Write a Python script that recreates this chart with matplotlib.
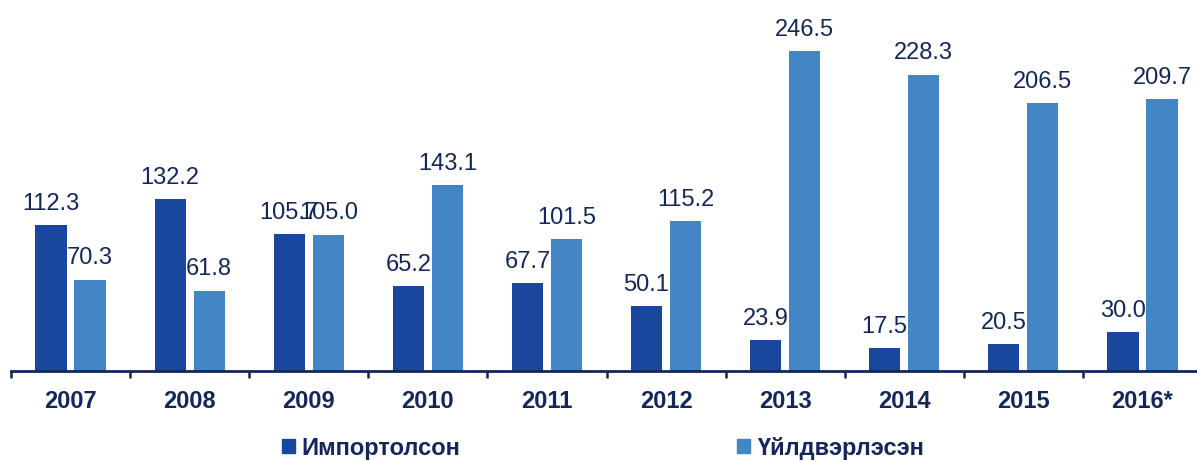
import matplotlib
matplotlib.use("Agg")
import matplotlib.pyplot as plt
from matplotlib.patches import Patch
import numpy as np

years = ["2007", "2008", "2009", "2010", "2011", "2012", "2013", "2014", "2015", "2016*"]
imported = [112.3, 132.2, 105.7, 65.2, 67.7, 50.1, 23.9, 17.5, 20.5, 30.0]
produced = [70.3, 61.8, 105.0, 143.1, 101.5, 115.2, 246.5, 228.3, 206.5, 209.7]
labels = ["Импортолсон", "Үйлдвэрлэсэн"]

dark = "#1A479E"
light = "#4286C6"
navy = "#13275A"

plt.rcParams["font.family"] = ["Liberation Sans", "DejaVu Sans"]

W, H = 1197, 461
fig = plt.figure(figsize=(W / 100, H / 100), dpi=100)
ax = fig.add_axes([11 / W, 90 / H, 10 * 119.1 / W, 371 / H])

x = np.arange(len(years))
bw = 0.262
off = 0.164
b1 = ax.bar(x - off, imported, bw, color=dark)
b2 = ax.bar(x + off, produced, bw, color=light)

for bars, vals in ((b1, imported), (b2, produced)):
    for b, v in zip(bars, vals):
        ax.annotate(f"{v:.1f}", (b.get_x() + b.get_width() / 2, v),
                    xytext=(0, 11), textcoords="offset points",
                    ha="center", va="baseline", fontsize=17, color=navy,
                    clip_on=False)

ax.set_xlim(-0.5, len(years) - 0.5)
ax.set_ylim(0, 285.8)

for s in ("top", "left", "right"):
    ax.spines[s].set_visible(False)
ax.spines["bottom"].set_color(navy)
ax.spines["bottom"].set_linewidth(2)

ax.set_yticks([])
ax.set_xticks(np.arange(len(years) + 1) - 0.5)
ax.set_xticklabels([])
ax.tick_params(axis="x", which="major", length=5, width=1.8, color=navy, direction="out")
ax.set_xticks(x, minor=True)
ax.set_xticklabels(years, minor=True, fontsize=17, fontweight="bold", color=navy)
ax.tick_params(axis="x", which="minor", length=0, pad=14)

# one legend per series so each entry sits where the reference has it
for color, label, lx in ((dark, labels[0], 282), (light, labels[1], 737)):
    leg = fig.legend([Patch(color=color)], [label], loc="center left",
                     bbox_to_anchor=(lx / W, 13 / H), frameon=False,
                     handlelength=0.55, handleheight=0.55, handletextpad=0.28,
                     borderpad=0, borderaxespad=0,
                     prop={"size": 17, "weight": "bold"})
    for t in leg.get_texts():
        t.set_color(navy)

fig.savefig("out.png", dpi=100)
